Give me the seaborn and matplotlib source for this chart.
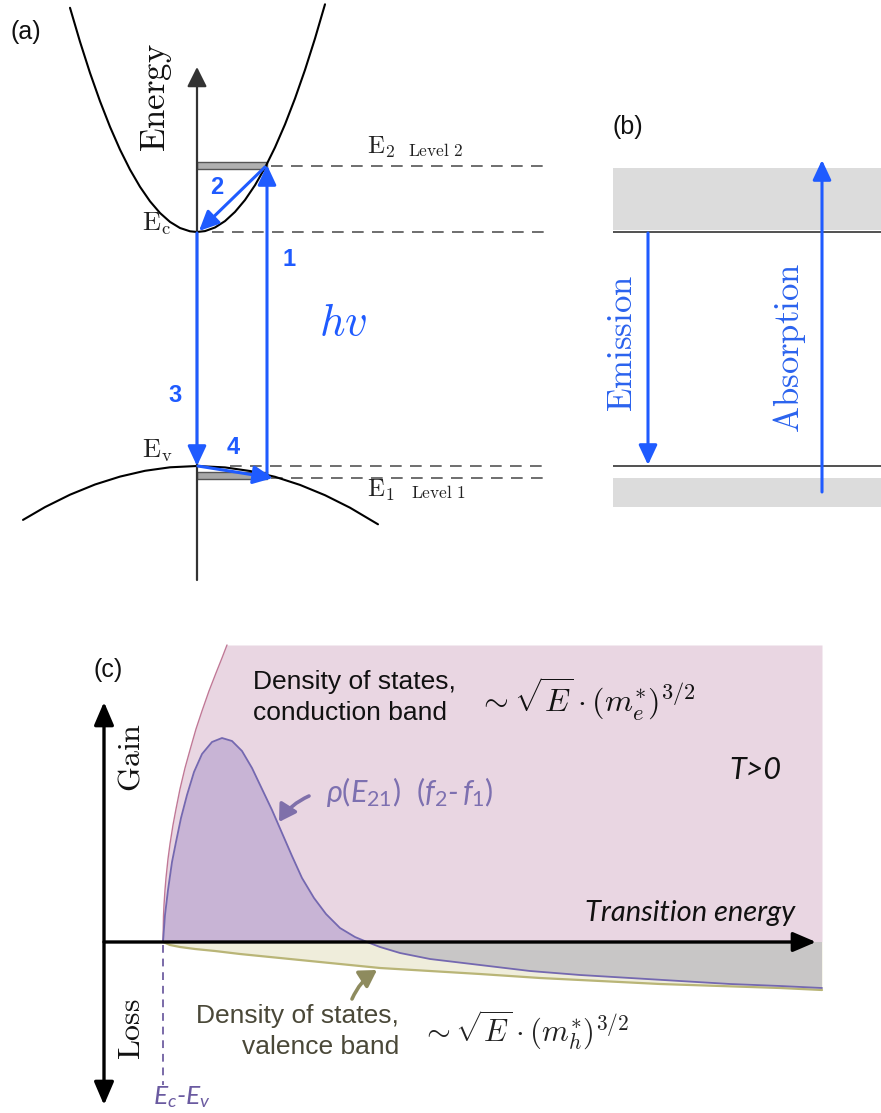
import numpy as np
import matplotlib
matplotlib.use("Agg")
import matplotlib.pyplot as plt
import seaborn as sns
from matplotlib.patches import Rectangle

# ------------------------------------------------------------------
# Data (schematic, pixel-like units, y downward)
# ------------------------------------------------------------------
# (a) conduction band E(k) and valence band E(k)
cb_k = [70, 80, 90, 100, 110, 120, 130, 140, 150, 160, 170, 180, 190, 197,
        205, 215, 225, 235, 245, 255, 265, 275, 285, 295, 305, 315, 325]
cb_E = [7.8, 41.7, 72.9, 101.2, 126.8, 149.6, 169.6, 186.8, 201.3, 213.0, 221.9,
        228.0, 231.3, 232.0, 231.1, 227.5, 221.1, 211.9, 200.0, 185.2, 167.7,
        147.4, 124.4, 98.5, 69.9, 38.5, 4.3]
vb_k = [23, 45, 70, 95, 120, 145, 170, 197, 225, 250, 275, 300, 325, 350, 378]
vb_E = [519.9, 507.1, 494.7, 484.5, 476.6, 470.8, 467.3, 466.0, 467.4, 471.0,
        476.8, 484.9, 495.2, 507.7, 524.3]

# energy levels
level_names = ["E2", "Ec", "Ev", "E1"]
level_y = [166, 232, 466, 478]
k0 = 197          # k = 0 (energy axis)
k_level = 267     # k of levels 1/2

# (c) densities of states and gain spectrum
dos_c_x = [163, 163.5, 164, 165, 166, 168, 170, 173, 176, 180, 185, 190, 196,
           202, 209, 216, 222, 227]
dos_c_y = [942, 916, 905, 890, 878, 859, 844, 825, 809, 789, 768, 750, 729,
           711, 691, 673, 658, 645]
gain_x = [163, 165, 168, 172, 176, 181, 187, 194, 202, 212, 222, 232, 242, 252,
          262, 272, 282, 292, 302, 314, 326, 340, 355, 367, 380, 400, 430, 480,
          530, 580, 630, 680, 730, 780, 822]
gain_y = [942, 915, 890, 862, 842, 818, 795, 772, 754, 742, 738, 741, 751, 768,
          789, 810, 833, 856, 878, 898, 914, 928, 937, 942, 947, 953, 959, 965,
          971, 975, 978, 981, 984, 986, 988]
dos_v_x = [163, 170, 180, 195, 215, 240, 270, 300, 340, 380, 430, 480, 540,
           600, 660, 720, 780, 822]
dos_v_y = [942, 945, 947, 949, 951, 954, 957, 960, 964, 968, 971, 974, 978,
           981, 984, 986, 988, 990]
axis_y_c = 942
x_right_c = 822

# ------------------------------------------------------------------
sns.set_style("white")
plt.rcParams['font.family'] = ['Liberation Sans', 'DejaVu Sans']
plt.rcParams['mathtext.fontset'] = 'custom'
plt.rcParams['mathtext.it'] = 'Lato:italic'
plt.rcParams['mathtext.rm'] = 'Lato'
plt.rcParams['mathtext.bf'] = 'Lato:bold'

fig = plt.figure(figsize=(8.81, 11.13), dpi=100)
ax = fig.add_axes([0, 0, 1, 1])

BLUE = '#1f5bff'
BLUE_T = '#2b63ee'


def line(x, y, **kw):
    sns.lineplot(x=x, y=y, ax=ax, sort=False, estimator=None, legend=False, **kw)


def arrow(tail, tip, color, lw, hl=0.6, hw=0.28, style='-|>', ms=20, conn=None):
    props = dict(arrowstyle=f'{style},head_length={hl},head_width={hw}',
                 color=color, lw=lw, shrinkA=0, shrinkB=0, mutation_scale=ms)
    if conn:
        props['connectionstyle'] = conn
    ax.annotate('', xy=tip, xytext=tail, arrowprops=props)


# ======================= panel (a) =======================
ax.text(11, 32, "(a)", fontsize=18, ha='left', va='center', color='#111')

# level bars
ax.add_patch(Rectangle((k0, 162), k_level - k0, 7, fc='#b0b0b0', ec='#555', lw=1, zorder=2))
ax.add_patch(Rectangle((k0, 472), k_level - k0, 7, fc='#a8a8a8', ec='#555', lw=1, zorder=2))

# dashed level lines
dash = (0, (7, 5))
ax.hlines([level_y[0], level_y[3]], 271, 548, colors='#555', linestyles=dash, lw=1.2)
ax.hlines(level_y[1], 212, 548, colors='#555', linestyles=dash, lw=1.2)
ax.hlines(level_y[2], 230, 548, colors='#555', linestyles=dash, lw=1.2)

# energy axis
arrow((k0, 580), (k0, 67), '#333', 1.6, hl=0.6, hw=0.3)

# bands
line(cb_k, cb_E, color='black', linewidth=1.5)
line(vb_k, vb_E, color='black', linewidth=1.5)

# transitions
arrow((k_level, level_y[3]), (k_level, level_y[0] - 1), BLUE, 2.2)
arrow((265, level_y[0] + 1), (k0 + 2, level_y[1] - 1), BLUE, 2.2)
arrow((k0, level_y[1] + 1), (k0, level_y[2]), BLUE, 2.2)
arrow((k0 + 1, level_y[2]), (k_level + 6, level_y[3]), BLUE, 2.2)

for s, (x, y) in zip(["1", "2", "3", "4"], [(289, 259), (217, 187), (175, 396), (233, 447)]):
    ax.text(x, y, s, color=BLUE, fontsize=17, fontweight='bold', ha='center', va='center')
ax.text(343, 324, r"$hv$", color=BLUE, fontsize=32, ha='center', va='center',
        math_fontfamily='cm')

ax.text(157, 98, r"$\mathrm{Energy}$", rotation=90, fontsize=25, ha='center', va='center',
        math_fontfamily='cm', color='#111')
ax.text(142, 224, r"$\mathrm{E}_\mathrm{c}$", fontsize=19, ha='left', va='center',
        math_fontfamily='cm', color='#222')
ax.text(142, 451, r"$\mathrm{E}_\mathrm{v}$", fontsize=19, ha='left', va='center',
        math_fontfamily='cm', color='#222')
ax.text(367, 147, r"$\mathrm{E}_2$", fontsize=18, ha='left', va='center',
        math_fontfamily='cm', color='#222')
ax.text(408, 150, r"$\mathrm{Level\ 2}$", fontsize=12.5, ha='left', va='center',
        math_fontfamily='cm', color='#222')
ax.text(367, 490, r"$\mathrm{E}_1$", fontsize=18, ha='left', va='center',
        math_fontfamily='cm', color='#222')
ax.text(411, 492, r"$\mathrm{Level\ 1}$", fontsize=12.5, ha='left', va='center',
        math_fontfamily='cm', color='#222')

# ======================= panel (b) =======================
ax.text(612, 127, "(b)", fontsize=18, ha='left', va='center', color='#111')
ax.add_patch(Rectangle((613, 168), 268, 62, fc='#dcdcdc', ec='none'))
ax.add_patch(Rectangle((613, 478), 268, 29, fc='#dcdcdc', ec='none'))
ax.hlines([level_y[1], level_y[2]], 613, 881, colors='#333', lw=1.2)
arrow((648, 233), (648, 465), BLUE, 2.2)
arrow((822, 492), (822, 160), BLUE, 2.2)
ax.text(622, 343, r"$\mathrm{Emission}$", rotation=90, fontsize=25, ha='center', va='center',
        math_fontfamily='cm', color=BLUE_T)
ax.text(790, 348, r"$\mathrm{Absorption}$", rotation=90, fontsize=25, ha='center', va='center',
        math_fontfamily='cm', color=BLUE_T)

# ======================= panel (c) =======================
PINK = '#e9d6e2'
HUMP = '#c8b4d5'
GRAY = '#c8c6c6'
CREAM = '#efeddb'
PURPLE = '#7468b0'
OLIVE = '#b9b577'

gx = np.array(gain_x, float)
gy = np.array(gain_y, float)
ax.fill_betweenx(dos_c_y, dos_c_x, x_right_c, color=PINK, lw=0, zorder=1)
ax.fill_between(dos_v_x, axis_y_c, dos_v_y, color=CREAM, lw=0, zorder=1)
ax.fill_between(gx, gy, axis_y_c, where=gy <= axis_y_c, interpolate=True,
                color=HUMP, lw=0, zorder=2)
ax.fill_between(gx, axis_y_c, gy, where=gy >= axis_y_c, interpolate=True,
                color=GRAY, lw=0, zorder=2)
line(dos_c_x, dos_c_y, color='#c07896', linewidth=1.0, zorder=3)
line(dos_v_x, dos_v_y, color=OLIVE, linewidth=1.6, zorder=3)
line(gain_x, gain_y, color=PURPLE, linewidth=1.3, zorder=3)

# axes of panel (c)
arrow((104, axis_y_c), (816, axis_y_c), 'black', 2.4, hl=0.7, hw=0.3)
arrow((104, 1105), (104, 702), 'black', 2.4, hl=0.7, hw=0.3, style='<|-|>')
ax.vlines(dos_c_x[0], axis_y_c + 3, 1085, colors='#7a6aa8', linestyles=(0, (4, 3)), lw=1.4)

ax.text(108, 670, "(c)", fontsize=18, ha='center', va='center', color='#111')
ax.text(132, 757, r"$\mathrm{Gain}$", rotation=90, fontsize=23, ha='center', va='center',
        math_fontfamily='cm', color='#111')
ax.text(132, 1029, r"$\mathrm{Loss}$", rotation=90, fontsize=23, ha='center', va='center',
        math_fontfamily='cm', color='#111')
ax.text(153, 1097, r"$E_c$-$E_v$", fontsize=19, ha='left', va='center', color='#6a5aa0',
        family='Lato', style='italic')

ax.text(253, 682, "Density of states,", fontsize=19, ha='left', va='center', color='#111')
ax.text(253, 713, "conduction band", fontsize=19, ha='left', va='center', color='#111')
ax.text(478, 699, r"$\sim\sqrt{E}\cdot(m_e^{*})^{3/2}$", fontsize=23, ha='left', va='center',
        math_fontfamily='cm', color='#111')

ax.text(326, 792, r"$\rho(E_{21})\ \ (f_2$-$\,f_1)$", fontsize=22, ha='left', va='center',
        color='#7d70b0', family='Lato', style='italic')
ax.text(755, 770, "T>0", fontsize=22, ha='center', va='center', color='#111',
        family='Lato', style='italic')
ax.text(585, 913, "Transition energy", fontsize=21, ha='left', va='center', color='#111',
        family='Lato', style='italic')

ax.text(399, 1016, "Density of states,", fontsize=19, ha='right', va='center', color='#4a4838')
ax.text(399, 1047, "valence band", fontsize=19, ha='right', va='center', color='#4a4838')
ax.text(421, 1030, r"$\sim\sqrt{E}\cdot(m_h^{*})^{3/2}$", fontsize=22, ha='left', va='center',
        math_fontfamily='cm', color='#222')

arrow((309, 796), (279, 822), '#7f70aa', 2.6, hl=0.5, hw=0.3, conn='arc3,rad=0.15')
arrow((352, 999), (377, 970), '#8e8b5e', 2.6, hl=0.5, hw=0.3, conn='arc3,rad=-0.15')

ax.set_xlim(0, 881)
ax.set_ylim(1113, 0)
ax.axis('off')
fig.savefig("out.png", dpi=100)
